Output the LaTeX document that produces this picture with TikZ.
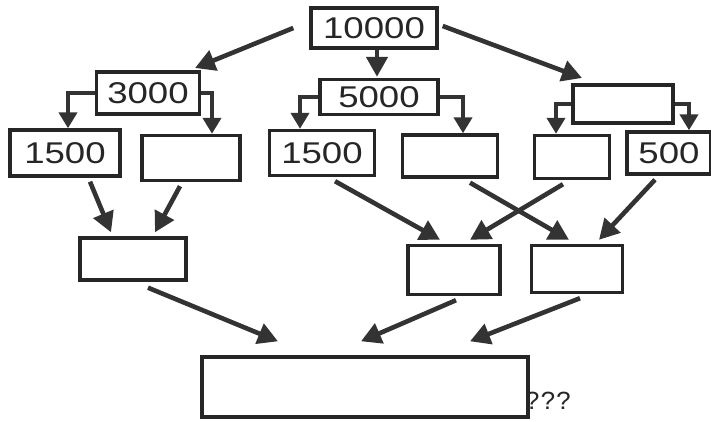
\documentclass[tikz,border=0pt]{standalone}
\usepackage{fontspec}
\setmainfont{Liberation Sans}
\newfontfamily\qfont{Liberation Mono}
\usetikzlibrary{arrows.meta,calc}
\newcommand{\num}[1]{\scalebox{1.22}[1]{#1}}
\begin{document}
\begin{tikzpicture}[x=1pt,y=-1pt,
  box/.style={draw=black!85,line width=3.4pt,rectangle,inner sep=0pt,
     font=\fontsize{30}{30}\selectfont,text=black!85},
  arr/.style={draw=black!80,line width=4.6pt,-{Triangle[length=20pt,width=21pt]}},
  elb/.style={draw=black!80,line width=4.2pt,-{Triangle[length=16pt,width=18pt]}}]
\useasboundingbox (0,0) rectangle (711,422);
\node[box,minimum width=126pt,minimum height=40pt] (top) at (374,28) {\num{10000}};
\node[box,minimum width=103pt,minimum height=42pt] (a) at (148,93) {\num{3000}};
\node[box,minimum width=118pt,minimum height=35pt] (b) at (379,97) {\num{5000}};
\node[box,minimum width=100pt,minimum height=38pt] (c) at (623,104) {};
\node[box,minimum width=110pt,minimum height=46pt] (a1) at (65,153) {\num{1500}};
\node[box,minimum width=98pt,minimum height=45pt] (a2) at (191,158) {};
\node[box,minimum width=105pt,minimum height=45pt] (b1) at (322,153) {\num{1500}};
\node[box,minimum width=95pt,minimum height=42pt] (b2) at (450,156) {};
\node[box,minimum width=75pt,minimum height=43pt] (c1) at (572,157) {};
\node[box,minimum width=84pt,minimum height=42pt] (c2) at (669,153) {\num{500}};
\node[box,minimum width=106pt,minimum height=42pt] (m1) at (133,259) {};
\node[box,minimum width=92pt,minimum height=49pt] (m2) at (454,270) {};
\node[box,minimum width=91pt,minimum height=47pt] (m3) at (577,269) {};
\node[box,minimum width=326pt,minimum height=60pt] (bot) at (365,387) {};
\node[anchor=west,inner sep=0pt,font=\qfont\fontsize{26}{26}\selectfont,text=black!85] (q) at ([xshift=-5pt,yshift=-14pt]bot.east) {???};
% top arrows
\coordinate (t1) at (195,68);
\coordinate (t3) at (582,78);
\draw[arr] ([xshift=-16pt]top.west) -- (t1);
\draw[arr] ([xshift=3pt]top.south) -- ([xshift=-2pt,yshift=1pt]b.north);
\draw[arr] ([xshift=4pt,yshift=2pt]top.east) -- (t3);
% elbows
\draw[elb] (a.west) -| ([xshift=3pt]a1.north);
\draw[elb] (a.east) -| ([xshift=21pt]a2.north);
\draw[elb] (b.west) -| ([xshift=-22pt]b1.north);
\draw[elb] (b.east) -| ([xshift=13pt]b2.north);
\draw[elb] (c.west) -| ([xshift=-16pt]c1.north);
\draw[elb] (c.east) -| ([xshift=20pt]c2.north);
% to middle row
\draw[arr] ([xshift=25pt,yshift=-4pt]a1.south) -- ([xshift=-22pt,yshift=4pt]m1.north);
\draw[arr] ([xshift=-11pt,yshift=-4pt]a2.south) -- ([xshift=22pt,yshift=4pt]m1.north);
\draw[arr] ([xshift=13pt,yshift=-4pt]b1.south) -- ([xshift=-14pt,yshift=4pt]m2.north);
\draw[arr] ([xshift=20pt,yshift=-4pt]b2.south) -- ([xshift=-8pt,yshift=4pt]m3.north);
\draw[arr] ([xshift=-9pt,yshift=-4pt]c1.south) -- ([xshift=16pt,yshift=4pt]m2.north);
\draw[arr] ([xshift=-14pt,yshift=-4pt]c2.south) -- ([xshift=22pt,yshift=4pt]m3.north);
% to bottom
\draw[arr] ([xshift=15pt,yshift=-6pt]m1.south) -- ([xshift=-87pt,yshift=14pt]bot.north);
\draw[arr] ([xshift=2pt,yshift=-4pt]m2.south) -- ([xshift=-4pt,yshift=14pt]bot.north);
\draw[arr] ([xshift=3pt,yshift=-4pt]m3.south) -- ([xshift=105pt,yshift=14pt]bot.north);
\end{tikzpicture}
\end{document}
